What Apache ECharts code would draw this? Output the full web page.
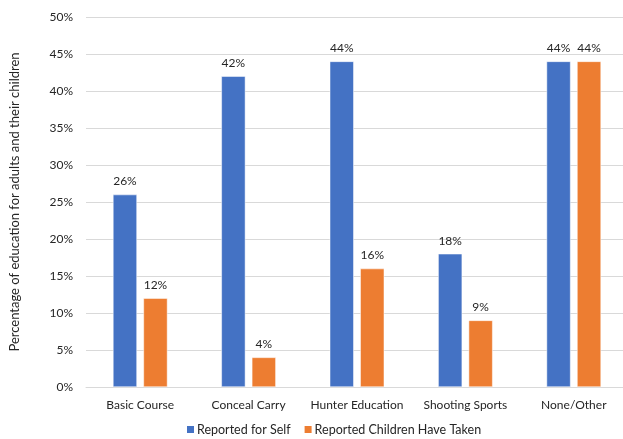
<!DOCTYPE html>
<html>
<head>
<meta charset="utf-8">
<script src="https://cdn.jsdelivr.net/npm/echarts@6/dist/echarts.min.js"></script>
<style>
  html, body { margin: 0; padding: 0; background: #fff; }
  #chart { width: 623px; height: 439px; }
</style>
</head>
<body>
<div id="chart"></div>
<script>
// Training categories and reported percentages
const categories = ['Basic Course', 'Conceal Carry', 'Hunter Education', 'Shooting Sports', 'None/Other'];
const selfValues = [26, 42, 44, 18, 44];
const childValues = [12, 4, 16, 9, 44];
const seriesNames = ['Reported for Self', 'Reported Children Have Taken'];

const FONT = 'Lato, "Liberation Sans", sans-serif';
const TEXT = '#262626';

const chart = echarts.init(document.getElementById('chart'));

const labelCfg = {
  show: true,
  position: 'top',
  distance: 7,
  color: TEXT,
  fontFamily: FONT,
  fontSize: 12,
  formatter: p => p.value + '%'
};

chart.setOption({
  animation: false,
  textStyle: { fontFamily: FONT },
  grid: { left: 86, width: 542, top: 17, bottom: 52, outerBoundsMode: 'none', containLabel: false },
  legend: {
    top: 418,
    left: 180,
    itemWidth: 9,
    itemHeight: 9,
    itemGap: 12,
    icon: 'rect',
    textStyle: { color: TEXT, fontFamily: FONT, fontSize: 12.5, padding: [0, 0, 0, -3] },
    data: seriesNames
  },
  xAxis: {
    type: 'category',
    data: categories,
    axisTick: { show: false },
    axisLine: { lineStyle: { color: '#d9d9d9' } },
    axisLabel: { interval: 0, color: TEXT, fontFamily: FONT, fontSize: 12, margin: 12 }
  },
  yAxis: {
    type: 'value',
    min: 0,
    max: 50,
    interval: 5,
    name: 'Percentage of education for adults and their children',
    nameLocation: 'middle',
    nameGap: 65,
    nameRotate: 90,
    nameTextStyle: { color: TEXT, fontFamily: FONT, fontSize: 13 },
    axisLabel: { color: TEXT, fontFamily: FONT, fontSize: 12, margin: 13, formatter: v => v + '%' },
    splitLine: { lineStyle: { color: '#d9d9d9' } }
  },
  series: [
    {
      name: seriesNames[0],
      type: 'bar',
      data: selfValues,
      barWidth: 24,
      barGap: '27%',
      itemStyle: { color: '#4472C4', borderColor: '#fff', borderWidth: 0.5 },
      label: labelCfg
    },
    {
      name: seriesNames[1],
      type: 'bar',
      data: childValues,
      barWidth: 24,
      itemStyle: { color: '#ED7D31', borderColor: '#fff', borderWidth: 0.5 },
      label: labelCfg
    }
  ]
});
</script>
</body>
</html>
